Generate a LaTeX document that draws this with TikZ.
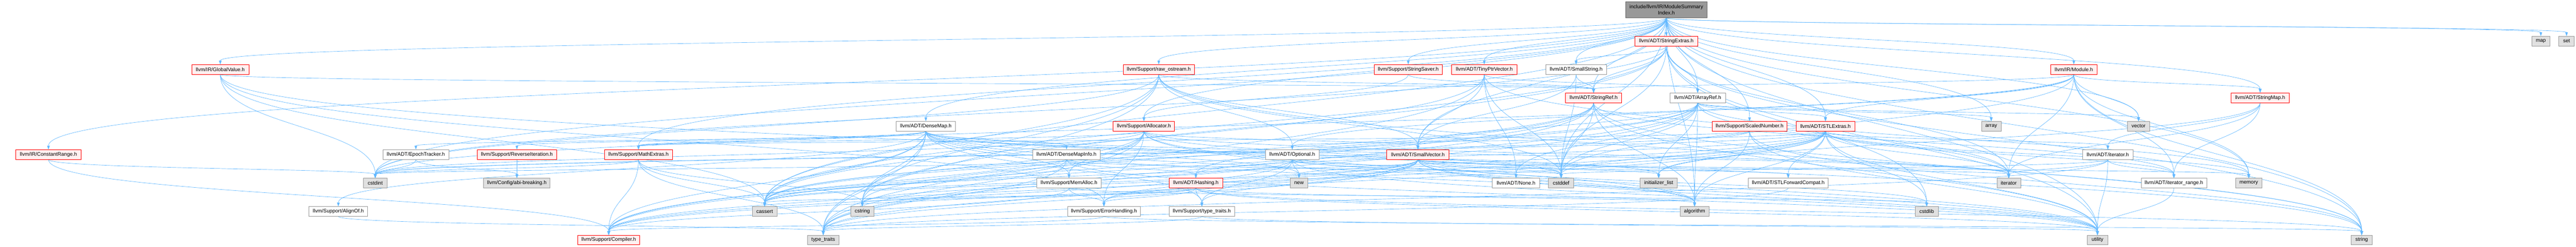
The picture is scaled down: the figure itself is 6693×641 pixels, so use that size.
\documentclass[tikz,border=0pt]{standalone}
\usepackage{fontspec}
\setmainfont{Liberation Sans}
\usetikzlibrary{arrows.meta,calc}
\definecolor{edgec}{HTML}{63B8FF}
\definecolor{redfill}{HTML}{FFF0F0}
\definecolor{greyfill}{HTML}{E0E0E0}
\definecolor{greyline}{HTML}{999999}
\definecolor{mainfill}{HTML}{999999}
\definecolor{mainline}{HTML}{666666}
\pgfdeclarelayer{edgelayer}
\pgfsetlayers{edgelayer,main}
\tikzset{
  box/.style={rectangle, inner sep=0pt, minimum height=25pt, line width=1pt, font=\fontsize{13.33}{15}\selectfont, text=black},
  redbox/.style={box, draw=red, fill=redfill},
  whitebox/.style={box, draw=greyline, fill=white},
  greybox/.style={box, draw=greyline, fill=greyfill},
  mainbox/.style={box, draw=mainline, fill=mainfill, minimum height=41pt, align=center},
  dep/.style={draw=edgec, line width=0.9pt, -{Triangle[length=10pt,width=7pt]}},
}
\newcommand\depedge[2]{\draw[dep] (#1) .. controls ($(#1)!0.5!(#1|-#2)$) and ($(#2)!0.5!(#2|-#1)$) .. (#2);}
\begin{document}
\begin{tikzpicture}[x=1pt,y=-1pt]
\useasboundingbox (0,0) rectangle (6693,641);
% row 1
\node[mainbox, minimum width=211pt] (M) at (4329.5,25.4) {include/llvm/IR/ModuleSummary\\Index.h};
% row 2
\node[redbox, minimum width=163pt] (SE) at (4329.5,106.7) {llvm/ADT/StringExtras.h};
\node[greybox, minimum width=46.4pt] (nmap) at (6601.6,106.7) {map};
\node[greybox, minimum width=40pt] (nset) at (6668.4,106.7) {set};
% row 3
\node[redbox, minimum width=148.2pt] (GV) at (572.3,180.3) {llvm/IR/GlobalValue.h};
\node[redbox, minimum width=184.3pt] (RO) at (3010.7,180.3) {llvm/Support/raw\_ostream.h};
\node[redbox, minimum width=176.4pt] (SS) at (3658.9,180.3) {llvm/Support/StringSaver.h};
\node[redbox, minimum width=170pt] (TPV) at (3856.4,180.3) {llvm/ADT/TinyPtrVector.h};
\node[whitebox, minimum width=158.6pt] (SStr) at (4095,180.3) {llvm/ADT/SmallString.h};
\node[redbox, minimum width=120.7pt] (Mod) at (5388.2,180.3) {llvm/IR/Module.h};
% row 4
\node[redbox, minimum width=146.5pt] (SR) at (4140.4,253.9) {llvm/ADT/StringRef.h};
\node[whitebox, minimum width=144pt] (AR) at (4410.9,253.9) {llvm/ADT/ArrayRef.h};
\node[redbox, minimum width=150.4pt] (SM) at (5872.3,253.9) {llvm/ADT/StringMap.h};
% row 5
\node[whitebox, minimum width=154.7pt] (DM) at (2405.5,327.7) {llvm/ADT/DenseMap.h};
\node[redbox, minimum width=159.3pt] (Al) at (2972.1,327.7) {llvm/Support/Allocator.h};
\node[redbox, minimum width=195pt] (SN) at (4545.7,327.7) {llvm/Support/ScaledNumber.h};
\node[redbox, minimum width=153.5pt] (STLE) at (4742.9,327.7) {llvm/ADT/STLExtras.h};
\node[greybox, minimum width=50.7pt] (narray) at (5173.6,327.7) {array};
\node[greybox, minimum width=57.9pt] (nvector) at (5556.4,327.7) {vector};
% row 6
\node[redbox, minimum width=169.6pt] (CR) at (125.9,401.2) {llvm/IR/ConstantRange.h};
\node[whitebox, minimum width=171.8pt] (ET) at (1080.5,401.2) {llvm/ADT/EpochTracker.h};
\node[redbox, minimum width=205.3pt] (RI) at (1343,401.2) {llvm/Support/ReverseIteration.h};
\node[redbox, minimum width=176.4pt] (ME) at (1658.9,401.2) {llvm/Support/MathExtras.h};
\node[whitebox, minimum width=176pt] (DMI) at (2770.9,401.2) {llvm/ADT/DenseMapInfo.h};
\node[whitebox, minimum width=139.2pt] (Opt) at (3357.5,401.2) {llvm/ADT/Optional.h};
\node[redbox, minimum width=161.8pt] (SV) at (3684.1,401.2) {llvm/ADT/SmallVector.h};
\node[whitebox, minimum width=130.4pt] (ITH) at (5476.6,401.2) {llvm/ADT/iterator.h};
% row 7
\node[greybox, minimum width=60.7pt] (ncstdint) at (975,475.3) {cstdint};
\node[greybox, minimum width=172.5pt] (abi) at (1343,475.3) {llvm/Config/abi-breaking.h};
\node[whitebox, minimum width=167.8pt] (MA) at (2777.5,475.3) {llvm/Support/MemAlloc.h};
\node[redbox, minimum width=139.3pt] (Hash) at (3107.1,475.3) {llvm/ADT/Hashing.h};
\node[greybox, minimum width=45pt] (nnew) at (3375,475.3) {new};
\node[whitebox, minimum width=122.9pt] (None) at (3939,475.3) {llvm/ADT/None.h};
\node[greybox, minimum width=65pt] (ncstddef) at (4056.1,475.3) {cstddef};
\node[greybox, minimum width=96.5pt] (ninit) at (4309.6,475.3) {initializer\_list};
\node[whitebox, minimum width=208.6pt] (STLFC) at (4646.1,475.3) {llvm/ADT/STLForwardCompat.h};
\node[greybox, minimum width=61.8pt] (niterator) at (5219.1,475.3) {iterator};
\node[whitebox, minimum width=170pt] (ITR) at (5648.2,475.3) {llvm/ADT/iterator\_range.h};
\node[greybox, minimum width=68.9pt] (nmemory) at (5842.7,475.3) {memory};
% row 8
\node[whitebox, minimum width=152.5pt] (AlignOf) at (879.1,548.8) {llvm/Support/AlignOf.h};
\node[greybox, minimum width=65pt] (ncassert) at (1986.8,548.8) {cassert};
\node[greybox, minimum width=60pt] (ncstring) at (2240.4,548.8) {cstring};
\node[whitebox, minimum width=188.6pt] (EH) at (2868.2,548.8) {llvm/Support/ErrorHandling.h};
\node[whitebox, minimum width=170.4pt] (TTH) at (3122.7,548.8) {llvm/Support/type\_traits.h};
\node[greybox, minimum width=75pt] (nalgorithm) at (4402.9,548.8) {algorithm};
\node[greybox, minimum width=60.4pt] (ncstdlib) at (5005.9,548.8) {cstdlib};
% row 9
\node[redbox, minimum width=160.4pt] (Comp) at (1581.6,622.9) {llvm/Support/Compiler.h};
\node[greybox, minimum width=82.1pt] (ntt) at (2139,622.9) {type\_traits};
\node[greybox, minimum width=52.9pt] (nutility) at (5449.6,622.9) {utility};
\node[greybox, minimum width=54.5pt] (nstring) at (6136.2,622.9) {string};
\begin{pgfonlayer}{edgelayer}
\foreach \t in {SE,nmap,nset,GV,RO,SS,TPV,SStr,Mod,SR,AR,SM,DM,Al,SN,STLE,narray,nvector,CR,ME,SV,ncstdint,ncstddef,nalgorithm,ncassert,nmemory,nutility,nstring} {\depedge{M}{\t}}
\foreach \t in {SStr,SR,AR,ncassert,ncstddef,ncstdint,ncstdlib,ncstring,niterator,nstring,nutility} {\depedge{SE}{\t}}
\foreach \t in {SV,SR,ncstddef} {\depedge{SStr}{\t}}
\foreach \t in {SR,EH,ncassert,ncstdint,nstring} {\depedge{GV}{\t}}
\foreach \t in {SV,SR,Opt,ncassert,ncstddef,ncstdint,ncstring,nstring,ntt} {\depedge{RO}{\t}}
\foreach \t in {SR,Al} {\depedge{SS}{\t}}
\foreach \t in {AR,SV,None,ncassert,ncstddef,niterator,ntt} {\depedge{TPV}{\t}}
\foreach \t in {Opt,STLE,SM,SR,ITR,ncstddef,ncstdint,niterator,nmemory,nstring,nvector} {\depedge{Mod}{\t}}
\foreach \t in {ITR,Comp,nalgorithm,ncassert,ncstddef,ncstring,nstring,ntt,nutility} {\depedge{SR}{\t}}
\foreach \t in {Hash,None,SV,STLE,Comp,nalgorithm,narray,ncassert,ncstddef,ninit,niterator,nmemory,ntt,nvector} {\depedge{AR}{\t}}
\foreach \t in {ITH,ninit,niterator,ITR} {\depedge{SM}{\t}}
\foreach \t in {DMI,ET,AlignOf,Comp,ME,MA,RI,TTH,nalgorithm,ncassert,ncstddef,ncstring,ninit,niterator,nnew,ntt,nutility} {\depedge{DM}{\t}}
\foreach \t in {SV,ME,MA,Comp,EH,nalgorithm,ncassert,ncstddef,ncstdint,niterator,ntt,nutility} {\depedge{Al}{\t}}
\foreach \t in {ME,nalgorithm,ncstdint,nstring,nutility} {\depedge{SN}{\t}}
\foreach \t in {Hash,Opt,STLFC,ITH,ITR,Comp,EH,nalgorithm,ncassert,ncstddef,ncstdint,ncstdlib,ninit,niterator,nmemory,ntt,nutility} {\depedge{STLE}{\t}}
\foreach \t in {Comp,ncstdint} {\depedge{CR}{\t}}
\foreach \t in {abi,ncstdint} {\depedge{ET}{\t}}
\depedge{RI}{abi}
\foreach \t in {Comp,ncassert,ncstdint,ncstring,ntt} {\depedge{ME}{\t}}
\foreach \t in {Hash,ncassert,ncstddef,ncstdint,ntt,nutility} {\depedge{DMI}{\t}}
\foreach \t in {None,STLFC,Comp,TTH,ncassert,nnew,nutility} {\depedge{Opt}{\t}}
\foreach \t in {Comp,EH,TTH,nalgorithm,ncassert,ncstddef,ncstdlib,ncstring,ninit,niterator,nmemory,nnew,ntt,nutility} {\depedge{SV}{\t}}
\foreach \t in {ITR,ncstddef,niterator,ntt,nutility} {\depedge{ITH}{\t}}
\foreach \t in {Comp,EH,ncstdlib} {\depedge{MA}{\t}}
\foreach \t in {EH,TTH,nalgorithm,ncassert,ncstring,nstring,nutility} {\depedge{Hash}{\t}}
\depedge{STLFC}{ntt}
\depedge{ITR}{nutility}
\depedge{AlignOf}{ntt}
\foreach \t in {Comp,nstring} {\depedge{EH}{\t}}
\foreach \t in {ntt,nutility} {\depedge{TTH}{\t}}
\end{pgfonlayer}
\end{tikzpicture}
\end{document}
